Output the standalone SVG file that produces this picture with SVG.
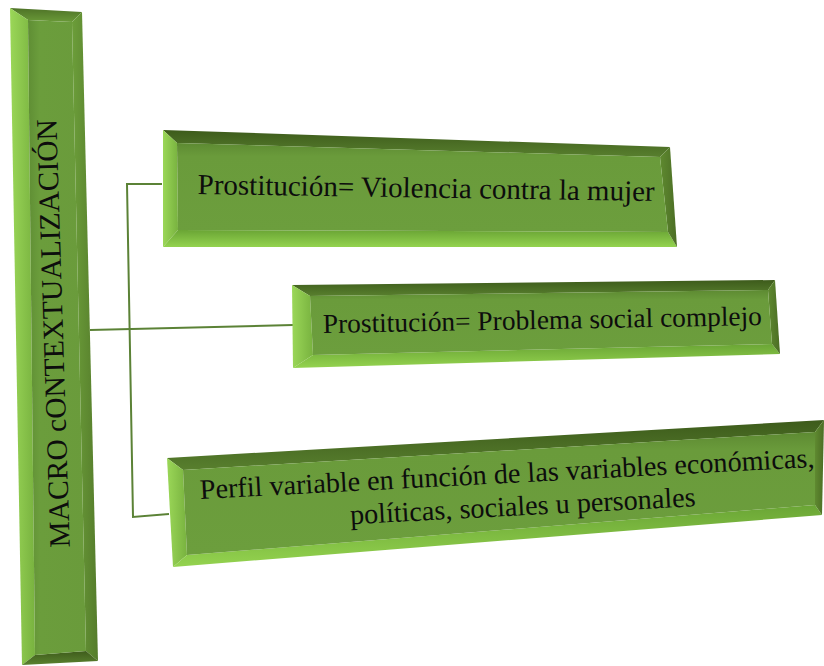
<svg xmlns="http://www.w3.org/2000/svg" width="824" height="666" viewBox="0 0 824 666">
<defs>
<linearGradient id="gTop" x1="0" y1="0" x2="0" y2="1"><stop offset="0" stop-color="#3d5b1b"/><stop offset="1" stop-color="#587f2e"/></linearGradient>
<linearGradient id="gLeft" x1="0" y1="0" x2="1" y2="0"><stop offset="0" stop-color="#9bd758"/><stop offset="1" stop-color="#78b23f"/></linearGradient>
<linearGradient id="gBot" x1="0" y1="0" x2="0" y2="1"><stop offset="0" stop-color="#6aa535"/><stop offset="1" stop-color="#94d34f"/></linearGradient>
<linearGradient id="gRight" x1="0" y1="0" x2="1" y2="0"><stop offset="0" stop-color="#5f8a30"/><stop offset="1" stop-color="#4b6d24"/></linearGradient>
<linearGradient id="gFace" x1="0" y1="0" x2="0" y2="1"><stop offset="0" stop-color="#5d8a32"/><stop offset="0.15" stop-color="#6a9b3b"/><stop offset="1" stop-color="#6c9e3d"/></linearGradient>
<linearGradient id="vFace" x1="0" y1="0" x2="1" y2="0"><stop offset="0" stop-color="#5f8e34"/><stop offset="0.2" stop-color="#6b9d3c"/><stop offset="1" stop-color="#6a9b3b"/></linearGradient>
<linearGradient id="vTop" x1="0" y1="0" x2="0" y2="1"><stop offset="0" stop-color="#4e7227"/><stop offset="1" stop-color="#6a9a38"/></linearGradient>
<linearGradient id="vRight" x1="0" y1="0" x2="1" y2="0"><stop offset="0" stop-color="#6c9e3a"/><stop offset="1" stop-color="#557c2b"/></linearGradient>
<linearGradient id="vBot" x1="0" y1="0" x2="0" y2="1"><stop offset="0" stop-color="#3f5c1c"/><stop offset="1" stop-color="#5a822f"/></linearGradient>
</defs>
<style>
.t{fill:url(#gTop)} .l{fill:url(#gLeft)} .b{fill:url(#gBot)} .r{fill:url(#gRight)} .f{fill:url(#gFace)}
.vt{fill:url(#vTop)} .vr{fill:url(#vRight)} .vb{fill:url(#vBot)} .vf{fill:url(#vFace)}
.txt{font-family:"Liberation Serif","Times New Roman",serif;fill:#0d0d0d;text-anchor:middle}
.conn{fill:none;stroke:#5b8236;stroke-width:2}
</style>
<rect width="824" height="666" fill="#ffffff"/>
<g id="connectors">
<polyline class="conn" points="162,184 127,184 133,517 169,514"/>
<line class="conn" x1="90" y1="330" x2="293" y2="325"/>
</g>
<g id="node-macro">
<polygon class="vt" points="10,8 82,12 72,22 28,20"/>
<polygon class="l" points="10,8 28,20 35,655 22,665"/>
<polygon class="vr" points="72,22 82,12 98,661 86,651"/>
<polygon class="vb" points="35,655 86,651 98,661 22,665"/>
<polygon class="vf" points="28,20 72,22 86,651 35,655"/>
<text class="txt" font-size="29.5" transform="translate(63,333) rotate(-91.8)">MACRO cONTEXTUALIZACIÓN</text>
</g>
<g id="node-1">
<polygon class="t" points="163,130 670,147 660,157 177,143"/>
<polygon class="l" points="163,130 177,143 178,230 163,247"/>
<polygon class="b" points="178,230 668,232 677,247 163,247"/>
<polygon class="r" points="660,157 670,147 677,247 668,232"/>
<polygon class="f" points="177,143 660,157 668,232 178,230"/>
<text class="txt" font-size="29" transform="translate(426,197.5) rotate(0.88)">Prostitución= Violencia contra la mujer</text>
</g>
<g id="node-2">
<polygon class="t" points="292,285 775,280 768,290 310,296"/>
<polygon class="l" points="292,285 310,296 313,355 293,368"/>
<polygon class="b" points="313,355 772,344 780,354 293,368"/>
<polygon class="r" points="768,290 775,280 780,354 772,344"/>
<polygon class="f" points="310,296 768,290 772,344 313,355"/>
<text class="txt" font-size="27.4" transform="translate(542.5,329) rotate(-1.04)">Prostitución= Problema social complejo</text>
</g>
<g id="node-3">
<polygon class="t" points="167,458 824,420 815,432 183,470"/>
<polygon class="l" points="167,458 183,470 187,555 173,567"/>
<polygon class="b" points="187,555 815,505 822,515 173,567"/>
<polygon class="r" points="815,432 824,420 822,515 815,505"/>
<polygon class="f" points="183,470 815,432 815,505 187,555"/>
<text class="txt" font-size="28.2" transform="translate(507.5,483) rotate(-2.98)"><tspan x="0" y="0">Perfil variable en función de las variables económicas,</tspan><tspan x="14" y="33">políticas, sociales u personales</tspan></text>
</g>
</svg>
